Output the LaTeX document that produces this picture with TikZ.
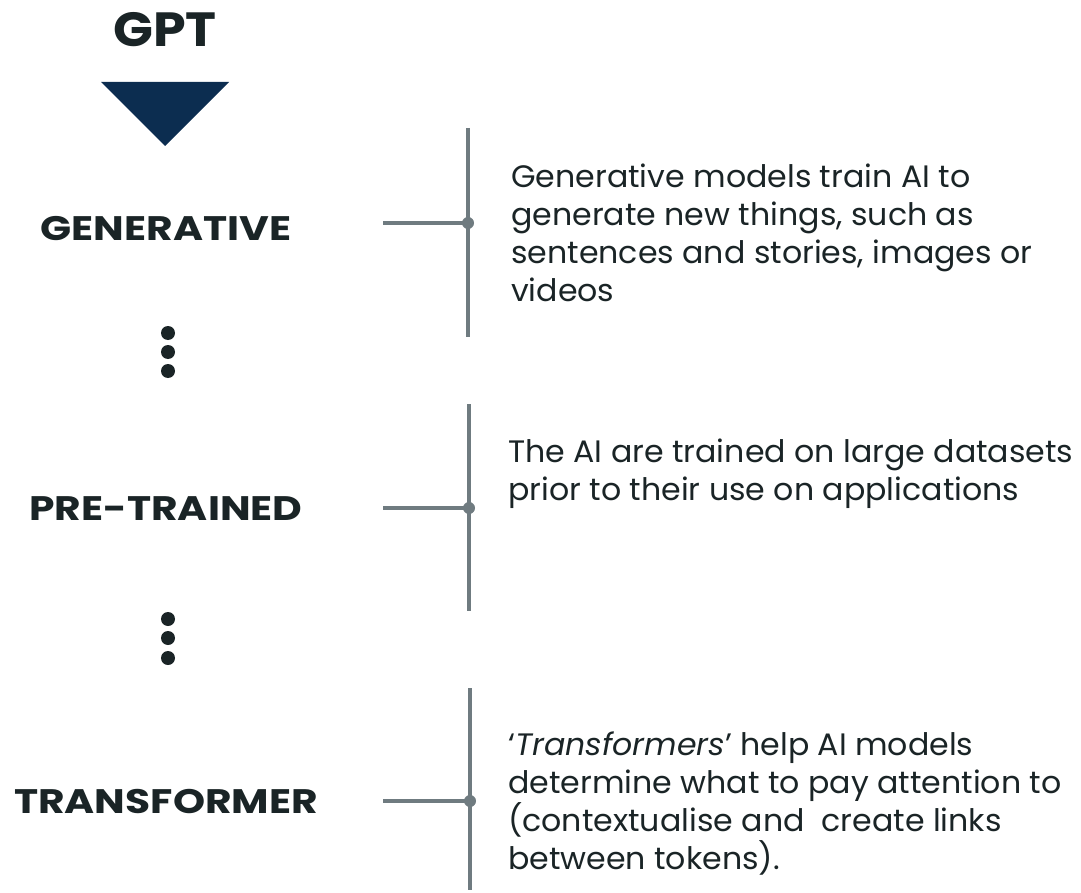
\documentclass[tikz,border=0pt]{standalone}
\usepackage{fontspec}
\setmainfont{Poppins}
\newfontfamily\headfont[FakeStretch=1.2,Ligatures=TeX]{Poppins}
\newfontfamily\titlefont[FakeStretch=1.09,Ligatures=TeX]{Poppins}
\newfontfamily\descfont[FakeStretch=1.02,Ligatures=TeX]{Poppins}
\definecolor{ink}{HTML}{1A2426}
\definecolor{navy}{HTML}{0C2D50}
\definecolor{rule}{HTML}{6F7B80}
\tikzset{
  head/.style={font=\headfont\fontsize{34}{38}\selectfont\bfseries, text=ink, inner sep=0pt},
  desc/.style={font=\descfont\fontsize{31}{38}\selectfont, text=ink, align=left, anchor=west, inner sep=0pt},
  conn/.style={draw=rule, line width=4pt},
  joint/.style={circle, fill=rule, minimum size=12pt, inner sep=0pt},
  dot/.style={circle, fill=ink, minimum size=14pt, inner sep=0pt},
}
\begin{document}
\begin{tikzpicture}[x=1pt,y=-1pt]
\useasboundingbox (0,0) rectangle (1081,893);
\node[text=ink, inner sep=0pt, font=\titlefont\fontsize{48}{50}\selectfont\bfseries] (gpt) at (165,30) {GPT};
\coordinate (tl) at (101,82);
\coordinate (tr) at (229,82);
\coordinate (tb) at (165,146);
\fill[navy] (tl) -- (tr) -- (tb) -- cycle;

\node[head] (gen) at (166,229) {GENERATIVE};
\node[head] (pre) at (166,509) {PRE-TRAINED};
\node[head] (tra) at (166,802) {TRANSFORMER};

% connectors
\coordinate (h1) at (383,223);
\node[joint] (j1) at (468,223) {};
\coordinate (v1t) at (468,128);
\coordinate (v1b) at (468,337);
\draw[conn] (v1t) -- (v1b);
\draw[conn] (h1) -- (j1.center);

\coordinate (h2) at (383,508);
\node[joint] (j2) at (469,508) {};
\coordinate (v2t) at (469,404);
\coordinate (v2b) at (469,611);
\draw[conn] (v2t) -- (v2b);
\draw[conn] (h2) -- (j2.center);

\coordinate (h3) at (383,801);
\node[joint] (j3) at (470,801) {};
\coordinate (v3t) at (470,688);
\coordinate (v3b) at (470,890);
\draw[conn] (v3t) -- (v3b);
\draw[conn] (h3) -- (j3.center);

% vertical ellipsis dots
\node[dot] (d1) at (168,333) {};
\node[dot] (d2) at (168,352) {};
\node[dot] (d3) at (168,371) {};
\node[dot] (d4) at (168,619) {};
\node[dot] (d5) at (168,638) {};
\node[dot] (d6) at (168,658) {};

% descriptions
\node[desc] (t1) at (511,233) {Generative models train AI to\\generate new things, such as\\sentences and stories, images or\\videos};
\node[desc] (t2) at (508,474) {The AI are trained on large datasets\\prior to their use on applications};
\node[desc] (t3) at (508,804) {‘\textit{Transformers}’ help AI models\\determine what to pay attention to\\(contextualise and\ \ create links\\between tokens).};
\end{tikzpicture}
\end{document}
